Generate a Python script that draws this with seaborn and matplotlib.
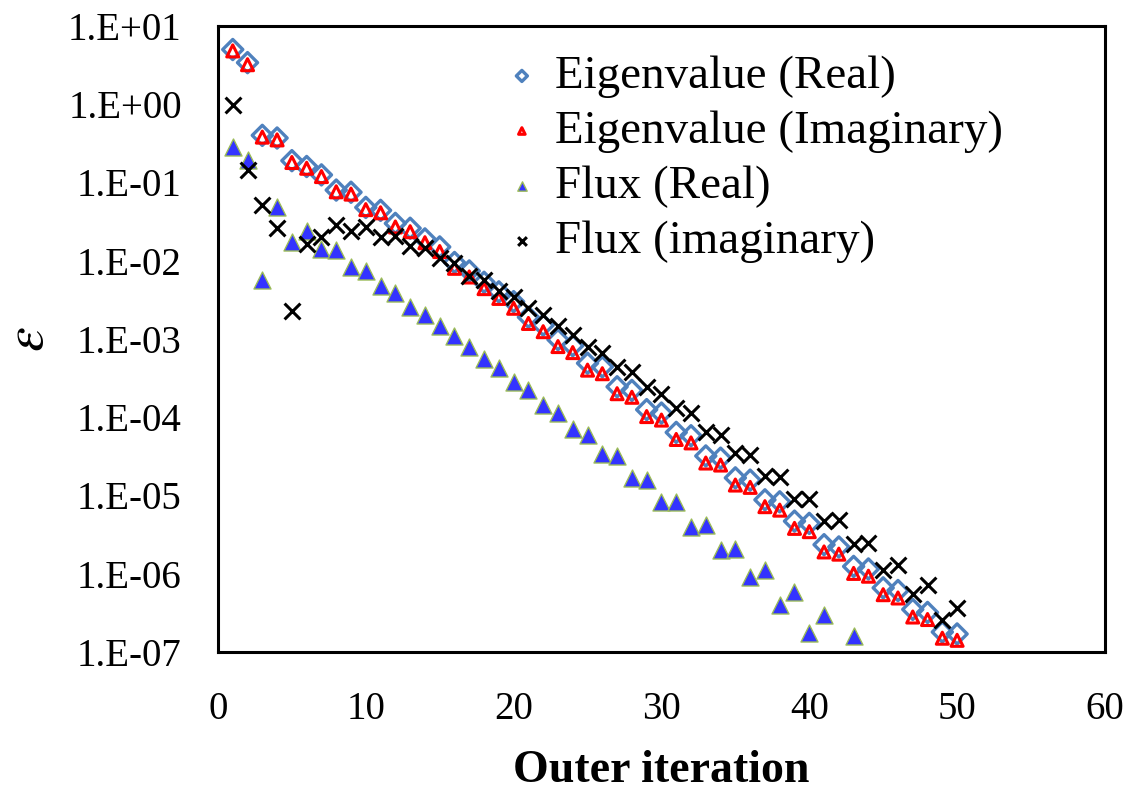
import numpy as np
import pandas as pd
import matplotlib
matplotlib.use("Agg")
import matplotlib.pyplot as plt
import matplotlib.ticker as mticker
import seaborn as sns

iteration = list(range(1, 51))

eig_real = [5.0, 3.4, 0.40, 0.37, 0.19, 0.16, 0.125, 0.080, 0.075, 0.048,
            0.044, 0.030, 0.026, 0.019, 0.015, 0.0095, 0.0074, 0.0053, 0.0040, 0.0030,
            0.0019, 0.0015, 9.8e-4, 8.2e-4, 4.9e-4, 4.4e-4, 2.45e-4, 2.2e-4, 1.25e-4, 1.13e-4,
            6.4e-5, 5.8e-5, 3.2e-5, 3.0e-5, 1.68e-5, 1.57e-5, 8.8e-6, 8.3e-6, 4.7e-6, 4.4e-6,
            2.35e-6, 2.2e-6, 1.24e-6, 1.15e-6, 6.6e-7, 6.1e-7, 3.5e-7, 3.2e-7, 1.8e-7, 1.7e-7]

eig_imag = [4.8, 3.2, 0.38, 0.35, 0.18, 0.152, 0.119, 0.076, 0.071, 0.045,
            0.041, 0.027, 0.0235, 0.017, 0.0131, 0.0080, 0.0062, 0.0044, 0.0033, 0.00247,
            0.00158, 0.00124, 8.0e-4, 6.7e-4, 4.0e-4, 3.6e-4, 2.0e-4, 1.8e-4, 1.02e-4, 9.2e-5,
            5.2e-5, 4.7e-5, 2.6e-5, 2.45e-5, 1.36e-5, 1.27e-5, 7.2e-6, 6.5e-6, 3.8e-6, 3.45e-6,
            1.9e-6, 1.78e-6, 1.01e-6, 9.3e-7, 5.4e-7, 4.9e-7, 2.8e-7, 2.6e-7, 1.5e-7, 1.41e-7]

flux_real = [0.287, 0.194, 0.0057, 0.049, 0.0175, 0.0242, 0.014, 0.0137, 0.0082, 0.0075,
             0.0048, 0.0039, 0.0026, 0.00204, 0.00147, 0.0011, 8.0e-4, 5.5e-4, 4.2e-4, 2.8e-4,
             2.2e-4, 1.44e-4, 1.12e-4, 7.0e-5, 6.0e-5, 3.4e-5, 3.2e-5, 1.66e-5, 1.58e-5, 8.3e-6,
             8.3e-6, 4.0e-6, 4.2e-6, 2.0e-6, 2.1e-6, 9.1e-7, 1.1e-6, 4.0e-7, 5.8e-7, 1.75e-7,
             3.0e-7, np.nan, 1.6e-7, np.nan, np.nan, np.nan, np.nan, np.nan, np.nan, np.nan]

flux_imag = [0.98, 0.145, 0.052, 0.026, 0.0023, 0.0164, 0.020, 0.0286, 0.0242, 0.0272,
             0.0203, 0.0207, 0.0155, 0.0146, 0.0107, 0.0093, 0.0064, 0.0057, 0.0041, 0.0034,
             0.00247, 0.0020, 0.00147, 0.00112, 8.0e-4, 6.6e-4, 4.4e-4, 3.8e-4, 2.4e-4, 2.0e-4,
             1.3e-4, 1.12e-4, 6.5e-5, 5.9e-5, 3.5e-5, 3.3e-5, 1.76e-5, 1.7e-5, 9.1e-6, 9.1e-6,
             4.7e-6, 4.8e-6, 2.4e-6, 2.5e-6, 1.1e-6, 1.3e-6, 5.5e-7, 7.1e-7, 2.6e-7, 3.7e-7]

y_ticks = [1e1, 1e0, 1e-1, 1e-2, 1e-3, 1e-4, 1e-5, 1e-6, 1e-7]
y_ticklabels = ['1.E+01', '1.E+00', '1.E-01', '1.E-02', '1.E-03', '1.E-04', '1.E-05', '1.E-06', '1.E-07']

df = pd.DataFrame({'Iteration': iteration, 'EigReal': eig_real, 'EigImag': eig_imag,
                   'FluxReal': flux_real, 'FluxImag': flux_imag})

sns.set_style('white')
plt.rcParams['font.family'] = ['Liberation Serif', 'DejaVu Serif']
plt.rcParams['mathtext.fontset'] = 'stix'
plt.rcParams['text.color'] = 'black'
plt.rcParams['axes.labelcolor'] = 'black'

fig = plt.figure(figsize=(11.37, 7.99), dpi=100)
ax = fig.add_axes([0.1917, 0.184, 0.7801, 0.7835])

sns.scatterplot(data=df, x='Iteration', y='EigReal', marker='D', s=105,
                facecolor='none', edgecolor='#4F81BD', linewidth=2.4, ax=ax,
                label='Eigenvalue (Real)', zorder=3)
sns.scatterplot(data=df, x='Iteration', y='EigImag', marker='^', s=75,
                facecolor='none', edgecolor='#FF0000', linewidth=2.2, ax=ax,
                label='Eigenvalue (Imaginary)', zorder=4)
sns.scatterplot(data=df, x='Iteration', y='FluxReal', marker='^', s=150,
                color='#3333FF', edgecolor='#9BBB59', linewidth=1.0, ax=ax,
                label='Flux (Real)', zorder=5)
sns.scatterplot(data=df, x='Iteration', y='FluxImag', marker='x', s=130,
                color='black', linewidth=2.2, ax=ax,
                label='Flux (imaginary)', zorder=6)

ax.set_yscale('log')
ax.set_xlim(0, 60)
ax.set_ylim(1e-7, 1e1)
ax.set_xticks(range(0, 61, 10))
ax.set_yticks(y_ticks)
ax.set_yticklabels(y_ticklabels)
ax.yaxis.set_minor_locator(mticker.NullLocator())
ax.tick_params(axis='both', which='major', direction='in', length=11, width=1.8,
               labelsize=28, colors='black', labelcolor='black')
ax.tick_params(axis='y', pad=26)
ax.tick_params(axis='x', pad=28)

for sp in ax.spines.values():
    sp.set_linewidth(2.2)
    sp.set_color('black')

ax.set_xlabel('Outer iteration', fontsize=33, fontweight='bold', labelpad=16)
ax.set_ylabel(r'$\varepsilon$', fontsize=40, rotation=90)
ax.yaxis.set_label_coords(-0.184, 0.5)

leg = ax.legend(loc='upper left', bbox_to_anchor=(0.295, 0.983), frameon=False,
                fontsize=33.8, markerscale=0.55, handletextpad=0.2, labelspacing=0.26,
                handlelength=1.0, borderaxespad=0)
for t in leg.get_texts():
    t.set_color('black')

fig.savefig('out.png', dpi=100)
